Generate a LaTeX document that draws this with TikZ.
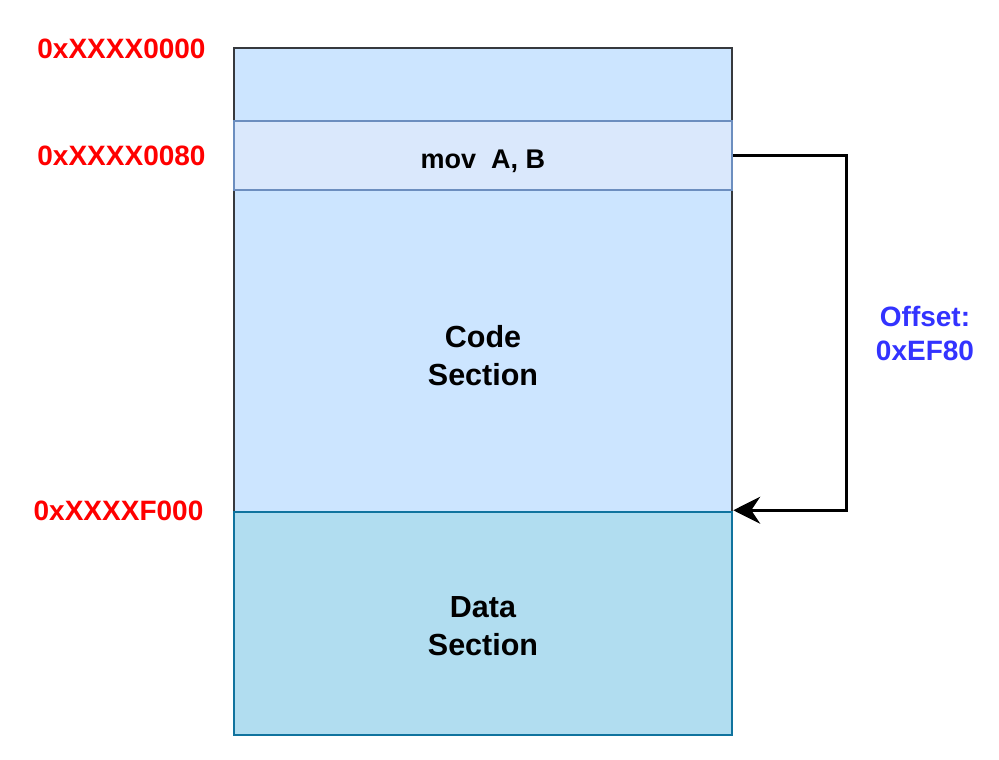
\documentclass[tikz,border=0pt]{standalone}
\usepackage{fontspec}
\setmainfont{Liberation Sans}
\usetikzlibrary{positioning, arrows.meta}
\definecolor{codefill}{HTML}{CCE5FF}
\definecolor{codeline}{HTML}{36393D}
\definecolor{movfill}{HTML}{DAE8FC}
\definecolor{movline}{HTML}{6C8EBF}
\definecolor{datafill}{HTML}{B1DDF0}
\definecolor{dataline}{HTML}{10739E}
\definecolor{offblue}{HTML}{3333FF}

\begin{document}
\begin{tikzpicture}[x=1pt, y=-1pt,
  sect/.style={draw, rectangle, line width=2.5pt, inner sep=0pt, minimum width=498pt},
  addr/.style={text=red, font=\fontsize{28}{33.6}\selectfont\bfseries},
  big/.style={align=center, font=\fontsize{30.5}{38}\selectfont\bfseries}]
  \useasboundingbox (0,0) rectangle (999,760);

  % Memory layout
  \node[sect, fill=codefill, draw=codeline, minimum height=464pt] (code) at (483,280) {};
  \node[sect, fill=movfill, draw=movline, minimum height=69pt] (mov) at (483,155.5) {};
  \node[font=\fontsize{27}{32}\selectfont\bfseries] (movtxt) at (483,161) {mov\ \ A, B};
  \node[sect, fill=datafill, draw=dataline, minimum height=223pt] (data) at (483,623.5) {};
  \node[big] (codetxt) at (483,356) {Code\\Section};
  \node[big] (datatxt) at (483,626) {Data\\Section};

  % Addresses
  \node[addr] (a0) at (121.5,48.5) {0xXXXX0000};
  \node[addr] (a80) at (121.5,156) {0xXXXX0080};
  \node[addr] (af) at (118.5,511) {0xXXXXF000};

  % Jump back to the data start
  \draw[line width=2.5pt, -{Stealth[length=27pt, width=27pt, inset=9pt]}]
    (mov.east) -- ++(113,0) coordinate (turn) |- ([yshift=3pt]code.south east);
  \node[text=offblue, align=center, font=\fontsize{28}{34}\selectfont\bfseries] (off) at (925,333) {Offset:\\0xEF80};
\end{tikzpicture}
\end{document}
